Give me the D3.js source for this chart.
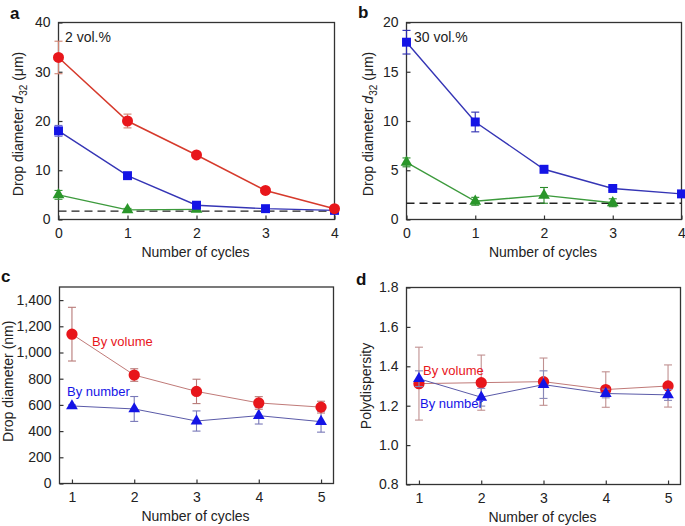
<!DOCTYPE html>
<html><head><meta charset="utf-8">
<script src="https://cdn.jsdelivr.net/npm/d3@7"></script>
<style>
body{margin:0;background:#fff;}
svg{display:block;font-family:"Liberation Sans",Arial,Helvetica,sans-serif;}
</style></head><body>
<svg id="chart" width="685" height="526"></svg>
<script>
// ---------- DATA ----------
const cyclesAB = [0, 1, 2, 3, 4];
const aRed = [32.9, 20.0, 13.1, 5.9, 2.2];
const aRedErr = [3.3, 1.4, 0.4, 0.3, 0.2];
const aBlue = [18.0, 8.9, 2.9, 2.2, 1.85];
const aBlueErr = [1.1, 0.4, 0.3, 0.2, 0.1];
const aGreen = [5.0, 1.95, 2.05];
const aGreenErr = [0.9, 0.3, 0.2];
const aDashed = 1.7;

const bBlue = [18.0, 9.9, 5.1, 3.15, 2.6];
const bBlueErr = [1.2, 1.0, 0.35, 0.2, 0.15];
const bGreen = [5.8, 1.85, 2.45, 1.7];
const bGreenErr = [0.45, 0.4, 0.8, 0.4];
const bDashed = 1.65;

const cyclesCD = [1, 2, 3, 4, 5];
const cVolume = [1140, 828, 703, 615, 583];
const cVolumeErr = [205, 48, 93, 48, 45];
const cNumber = [592, 569, 477, 518, 472];
const cNumberErr = [8, 95, 77, 64, 80];

const dVolume = [1.312, 1.317, 1.322, 1.282, 1.300];
const dVolumeErr = [0.185, 0.14, 0.12, 0.09, 0.107];
const dNumber = [1.337, 1.243, 1.307, 1.262, 1.255];
const dNumberErr = [0.04, 0.045, 0.07, 0.022, 0.028];

const ticksA = [0, 10, 20, 30, 40];
const ticksB = [0, 5, 10, 15, 20];
const ticksC = [0, 200, 400, 600, 800, 1000, 1200, 1400];
const ticksD = [0.8, 1.0, 1.2, 1.4, 1.6, 1.8];

// ---------- DRAW ----------
const svg = d3.select("#chart");
const AX = "#333";
const RED = "#e8161b", BLUE = "#1414e6", GREEN = "#2a962a";

function panel(o) {
  const g = svg.append("g");
  const x = d3.scaleLinear().domain(o.xdom).range([o.x0, o.x1]);
  const y = d3.scaleLinear().domain(o.ydom).range([o.y1, o.y0]);
  g.append("rect").attr("x", o.x0).attr("y", o.y0).attr("width", o.x1 - o.x0).attr("height", o.y1 - o.y0)
    .attr("fill", "none").attr("stroke", AX).attr("stroke-width", 1.3);
  const ya = d3.axisLeft(y).tickValues(o.yticks).tickSizeInner(-4).tickSizeOuter(0).tickPadding(8).tickFormat(o.yfmt);
  const yg = g.append("g").attr("transform", `translate(${o.x0},0)`).call(ya);
  const xa = d3.axisBottom(x).tickValues(o.xticks).tickSizeInner(-4).tickSizeOuter(0).tickPadding(9).tickFormat(d3.format("d"));
  const xg = g.append("g").attr("transform", `translate(0,${o.y1})`).call(xa);
  [yg, xg].forEach(a => {
    a.select(".domain").remove();
    a.selectAll(".tick line").attr("stroke", AX).attr("stroke-width", 1.2);
    a.selectAll(".tick text").attr("font-size", 14).attr("fill", "#222").attr("font-family", "Liberation Sans, Arial, sans-serif");
  });
  g.append("text").attr("x", (o.x0 + o.x1) / 2 - 1).attr("y", o.y1 + 37).attr("text-anchor", "middle")
    .attr("font-size", 14).attr("fill", "#222").text("Number of cycles");
  const yt = g.append("text").attr("transform", `translate(${o.ytx},${(o.y0 + o.y1) / 2 + o.ytdy}) rotate(-90)`)
    .attr("text-anchor", "middle").attr("font-size", 14).attr("fill", "#222");
  o.ytitle(yt);
  g.append("text").attr("x", o.lx).attr("y", o.ly).attr("font-size", 17).attr("font-weight", "bold").attr("fill", "#111").text(o.letter);
  return { g, x, y };
}

function dropTitle(t) {
  t.append("tspan").text("Drop diameter ");
  t.append("tspan").attr("font-style", "italic").text("d");
  t.append("tspan").attr("font-size", 10).attr("dy", 4).text("32");
  t.append("tspan").attr("dy", -4).text(" (\u03BCm)");
}

function series(p, xs, ys, errs, opt) {
  const pts = ys.map((v, i) => ({ x: xs[i], v, e: errs[i] }));
  const line = d3.line().x(d => p.x(d.x)).y(d => p.y(d.v));
  p.g.append("path").datum(pts).attr("d", line).attr("fill", "none")
    .attr("stroke", opt.line).attr("stroke-width", opt.lw);
  const eb = p.g.append("g").attr("stroke", opt.err).attr("stroke-width", 1.1).attr("fill", "none");
  pts.forEach(d => {
    const cx = p.x(d.x), yt = p.y(d.v + d.e), yb = p.y(d.v - d.e);
    eb.append("line").attr("x1", cx).attr("x2", cx).attr("y1", yt).attr("y2", yb);
    eb.append("line").attr("x1", cx - 4).attr("x2", cx + 4).attr("y1", yt).attr("y2", yt);
    eb.append("line").attr("x1", cx - 4).attr("x2", cx + 4).attr("y1", yb).attr("y2", yb);
  });
  const sym = opt.shape === "circle" ? d3.symbolCircle : opt.shape === "square" ? d3.symbolSquare : d3.symbolTriangle;
  p.g.selectAll(null).data(pts).enter().append("path")
    .attr("d", d3.symbol().type(sym).size(opt.size))
    .attr("transform", d => `translate(${p.x(d.x)},${p.y(d.v)})`)
    .attr("fill", opt.fill);
}

function dashed(p, v) {
  p.g.append("line").attr("x1", p.x.range()[0]).attr("x2", p.x.range()[1])
    .attr("y1", p.y(v)).attr("y2", p.y(v)).attr("stroke", "#222").attr("stroke-width", 1.3)
    .attr("stroke-dasharray", "8,5");
}

// Panel a
const pa = panel({ x0: 58.5, x1: 334.5, y0: 22.5, y1: 219.5, xdom: [0, 4], ydom: [0, 40],
  xticks: cyclesAB, yticks: ticksA, yfmt: d3.format("d"), ytx: 23, ytdy: 3, ytitle: dropTitle, letter: "a", lx: 10, ly: 19 });
dashed(pa, aDashed);
series(pa, cyclesAB, aGreen, aGreenErr, { line: "#3c9a3c", lw: 1.4, err: "#3c9a3c", fill: GREEN, shape: "triangle", size: 60 });
series(pa, cyclesAB, aBlue, aBlueErr, { line: "#3535b5", lw: 1.4, err: "#6a6ad0", fill: BLUE, shape: "square", size: 80 });
series(pa, cyclesAB, aRed, aRedErr, { line: "#d63a2c", lw: 1.5, err: "#d08070", fill: RED, shape: "circle", size: 95 });
pa.g.append("text").attr("x", 65).attr("y", 42).attr("font-size", 14).attr("fill", "#222").text("2 vol.%");

// Panel b
const pb = panel({ x0: 406.5, x1: 681.5, y0: 22.5, y1: 219.5, xdom: [0, 4], ydom: [0, 20],
  xticks: cyclesAB, yticks: ticksB, yfmt: d3.format("d"), ytx: 373, ytdy: 3, ytitle: dropTitle, letter: "b", lx: 358, ly: 18 });
dashed(pb, bDashed);
series(pb, cyclesAB, bGreen, bGreenErr, { line: "#3c9a3c", lw: 1.4, err: "#2a8a2a", fill: GREEN, shape: "triangle", size: 60 });
series(pb, cyclesAB, bBlue, bBlueErr, { line: "#3535b5", lw: 1.4, err: "#2a2ab0", fill: BLUE, shape: "square", size: 80 });
pb.g.append("text").attr("x", 414).attr("y", 42).attr("font-size", 14).attr("fill", "#222").text("30 vol.%");

// Panel c
const pc = panel({ x0: 59.5, x1: 333.5, y0: 287, y1: 483.5, xdom: [0.8, 5.2], ydom: [0, 1500],
  xticks: cyclesCD, yticks: ticksC, yfmt: d3.format(","), ytx: 12.5, ytdy: -4, ytitle: t => t.text("Drop diameter (nm)"), letter: "c", lx: 1, ly: 282 });
series(pc, cyclesCD, cNumber, cNumberErr, { line: "#5a5aa8", lw: 1, err: "#7878b8", fill: BLUE, shape: "triangle", size: 60 });
series(pc, cyclesCD, cVolume, cVolumeErr, { line: "#c07a78", lw: 1, err: "#b87a78", fill: RED, shape: "circle", size: 100 });
pc.g.append("text").attr("x", 92).attr("y", 346).attr("font-size", 13).attr("fill", RED).text("By volume");
pc.g.append("text").attr("x", 67).attr("y", 396).attr("font-size", 13).attr("fill", BLUE).text("By number");

// Panel d
const pd = panel({ x0: 406.5, x1: 680.5, y0: 287.5, y1: 484.5, xdom: [0.8, 5.2], ydom: [0.8, 1.8],
  xticks: cyclesCD, yticks: ticksD, yfmt: d3.format(".1f"), ytx: 370.5, ytdy: 0, ytitle: t => t.text("Polydispersity"), letter: "d", lx: 356, ly: 285 });
series(pd, cyclesCD, dVolume, dVolumeErr, { line: "#c07a78", lw: 1, err: "#c09090", fill: RED, shape: "circle", size: 100 });
series(pd, cyclesCD, dNumber, dNumberErr, { line: "#5a5aa8", lw: 1, err: "#8888b8", fill: BLUE, shape: "triangle", size: 60 });
pd.g.append("text").attr("x", 423).attr("y", 375).attr("font-size", 13).attr("fill", RED).text("By volume");
pd.g.append("text").attr("x", 420).attr("y", 408).attr("font-size", 13).attr("fill", BLUE).text("By number");
</script></body></html>
